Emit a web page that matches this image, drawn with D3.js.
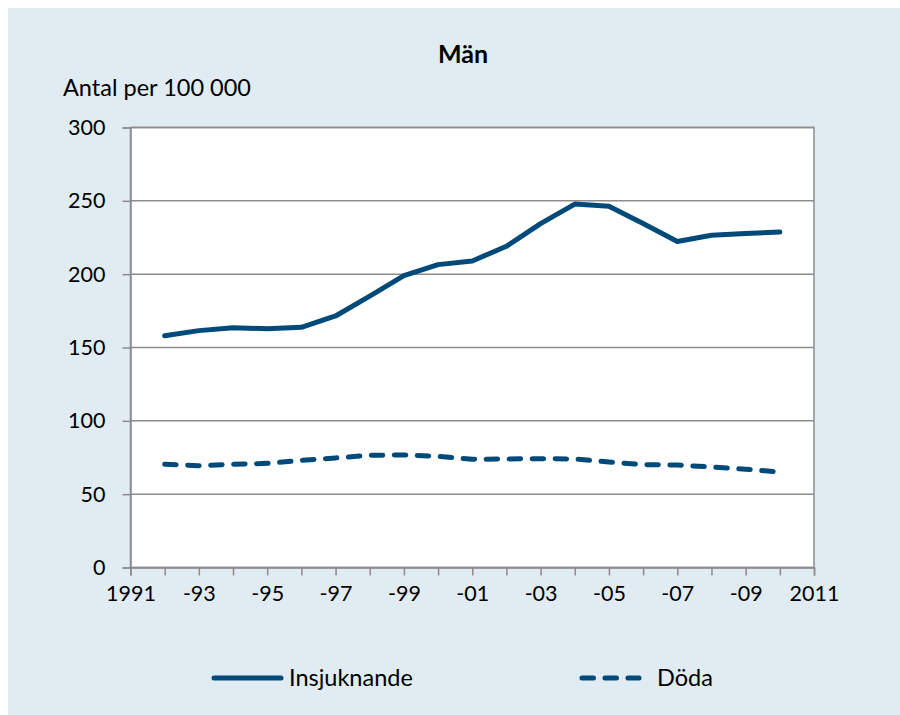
<!DOCTYPE html>
<html><head><meta charset="utf-8">
<script src="https://cdn.jsdelivr.net/npm/d3@7"></script>
<style>
html,body{margin:0;padding:0;background:#fff;}
svg{display:block;font-family:Lato, "Open Sans", sans-serif;}
</style></head>
<body>
<svg id="c" width="900" height="715"></svg>
<script>
const years = [1992,1993,1994,1995,1996,1997,1998,1999,2000,2001,2002,2003,2004,2005,2006,2007,2008,2009,2010];
const insjuknande = [158,161.5,163.5,162.8,163.8,171.5,185,199,206.5,209,219,234.5,247.8,246.3,234.5,222.3,226.5,227.8,228.7];
const doda = [70.4,69.4,70.4,71,73.1,74.7,76.5,76.7,75.8,73.8,74,74.2,74,71.9,70.1,69.9,68.5,67,65.1];
const yTicks = [0,50,100,150,200,250,300];
const xTickYears = [1991,1993,1995,1997,1999,2001,2003,2005,2007,2009,2011];
const xTickLabels = ["1991","-93","-95","-97","-99","-01","-03","-05","-07","-09","2011"];
const seriesNames = ["Insjuknande","Döda"];
const title = "Män";
const yTitle = "Antal per 100 000";

const color = "#004a7a";
const grid = "#8c8c8c";
const svg = d3.select("#c");
svg.append("rect").attr("x",8).attr("y",8).attr("width",892).attr("height",707).attr("fill","#e0ebf2");

const L=130.5, R=814, T=127.5, B=567.5;
const x = d3.scaleLinear().domain([1991,2011]).range([L,R]);
const y = d3.scaleLinear().domain([0,300]).range([B,T]);

svg.append("rect").attr("x",L).attr("y",T).attr("width",R-L).attr("height",B-T).attr("fill","#fff")
  .attr("stroke",grid).attr("stroke-width",1.5);

// gridlines
svg.append("g").selectAll("line").data(yTicks).join("line")
  .attr("x1",L).attr("x2",R).attr("y1",d=>y(d)).attr("y2",d=>y(d))
  .attr("stroke",grid).attr("stroke-width",1.5);

// y axis
const ya = svg.append("g").attr("transform",`translate(${L},0)`)
  .call(d3.axisLeft(y).tickValues(yTicks).tickSize(8).tickPadding(17).tickFormat(d3.format("d")));
ya.select(".domain").attr("stroke",grid).attr("stroke-width",1.5);
ya.selectAll(".tick line").attr("stroke",grid).attr("stroke-width",1.5);
ya.selectAll("text").attr("font-size",21.5).attr("fill","#000").attr("font-family","Lato");

// x axis with yearly ticks
const allYears = d3.range(1991,2012);
const xa = svg.append("g").attr("transform",`translate(0,${B})`)
  .call(d3.axisBottom(x).tickValues(allYears).tickSize(8).tickPadding(10)
    .tickFormat(d=>{const i=xTickYears.indexOf(d);return i>=0?xTickLabels[i]:"";}));
xa.select(".domain").attr("stroke",grid).attr("stroke-width",1.5);
xa.selectAll(".tick line").attr("stroke",grid).attr("stroke-width",1.5);
xa.selectAll("text").attr("font-size",21.5).attr("fill","#000").attr("font-family","Lato");

const line = d3.line().x((d,i)=>x(years[i])).y(d=>y(d));
svg.append("path").datum(insjuknande).attr("d",line).attr("fill","none")
  .attr("stroke",color).attr("stroke-width",5).attr("stroke-linejoin","round").attr("stroke-linecap","round");
svg.append("path").datum(doda).attr("d",line).attr("fill","none")
  .attr("stroke",color).attr("stroke-width",5).attr("stroke-linejoin","round").attr("stroke-linecap","round")
  .attr("stroke-dasharray","11.5,11.5");

// titles
svg.append("text").attr("x",463).attr("y",63).attr("text-anchor","middle")
  .attr("font-size",25).attr("font-weight","bold").text(title);
svg.append("text").attr("x",63).attr("y",96).attr("font-size",23.5).text(yTitle);

// legend
const lg = svg.append("g");
lg.append("line").attr("x1",214).attr("x2",281).attr("y1",678).attr("y2",678)
  .attr("stroke",color).attr("stroke-width",5).attr("stroke-linecap","round");
lg.append("text").attr("x",289).attr("y",686).attr("font-size",23.5).text(seriesNames[0]);
lg.append("line").attr("x1",582).attr("x2",639).attr("y1",678).attr("y2",678)
  .attr("stroke",color).attr("stroke-width",5).attr("stroke-linecap","round").attr("stroke-dasharray","11.5,11.5");
lg.append("text").attr("x",657).attr("y",686).attr("font-size",23.5).text(seriesNames[1]);
</script>
</body></html>
